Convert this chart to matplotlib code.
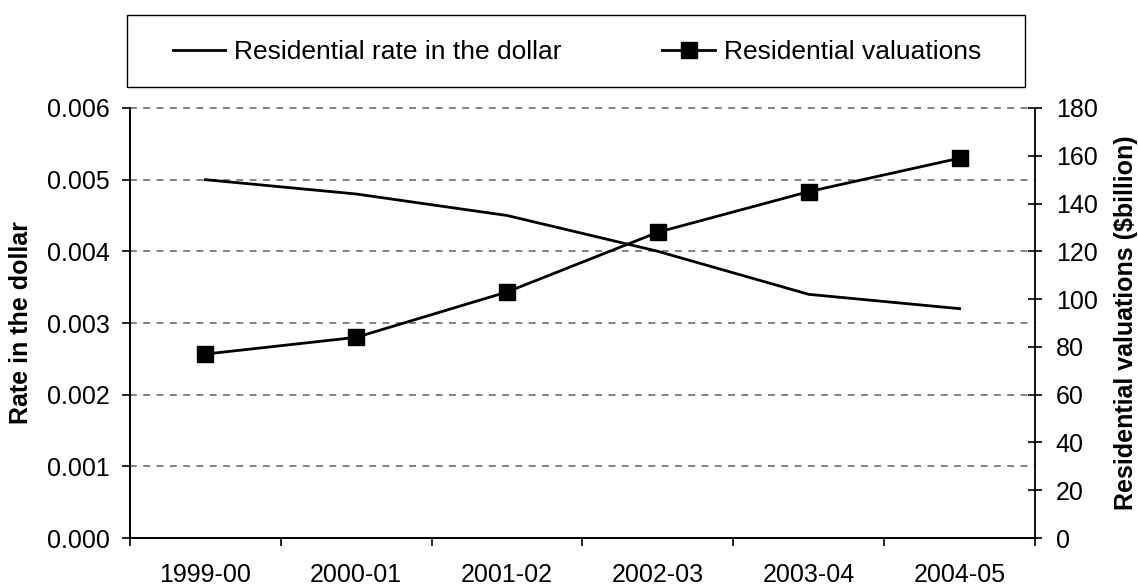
import matplotlib
matplotlib.use("Agg")
import matplotlib.pyplot as plt
from matplotlib.patches import Rectangle
from matplotlib.ticker import FixedLocator, FixedFormatter, MultipleLocator

plt.rcParams['font.family'] = ['Liberation Sans', 'DejaVu Sans']

years = ["1999-00", "2000-01", "2001-02", "2002-03", "2003-04", "2004-05"]
rate_in_dollar = [0.0050, 0.0048, 0.0045, 0.0040, 0.0034, 0.0032]
valuations_bn = [77, 84, 103, 128, 145, 159]

FS = 18
fig = plt.figure(figsize=(11.38, 5.86), dpi=100)
ax = fig.add_axes([0.1142, 0.0819, 0.7953, 0.7338])
ax2 = ax.twinx()

x = list(range(len(years)))

ax.set_xlim(-0.5, len(years) - 0.5)
ax.set_ylim(0, 0.006)
ax2.set_ylim(0, 180)

# dashed horizontal grid lines on the rate axis
for v in [0.001, 0.002, 0.003, 0.004, 0.005, 0.006]:
    ax.axhline(v, color="#606060", lw=1.1, ls=(0, (4.5, 4.2)), zorder=1,
               clip_on=False)

l1, = ax.plot(x, rate_in_dollar, color="black", lw=2, zorder=3,
              label="Residential rate in the dollar")
l2, = ax2.plot(x, valuations_bn, color="black", lw=2, marker="s",
               markersize=11, zorder=3, label="Residential valuations")

# category ticks at boundaries, labels at centres
ax.xaxis.set_major_locator(FixedLocator([i - 0.5 for i in range(len(years) + 1)]))
ax.xaxis.set_major_formatter(FixedFormatter([""] * (len(years) + 1)))
ax.xaxis.set_minor_locator(FixedLocator(x))
ax.xaxis.set_minor_formatter(FixedFormatter(years))
ax.tick_params(axis="x", which="major", direction="out", length=5.5, width=1.2)
ax.tick_params(axis="x", which="minor", length=0, labelsize=FS, pad=18)

ax.yaxis.set_major_locator(MultipleLocator(0.001))
ax.yaxis.set_major_formatter(plt.FuncFormatter(lambda v, p: f"{v:.3f}"))
ax.tick_params(axis="y", direction="out", length=5.5, width=1.2, labelsize=FS, pad=9)

ax2.yaxis.set_major_locator(MultipleLocator(20))
ax2.tick_params(axis="y", direction="inout", length=10, width=1.2, labelsize=FS, pad=10)

for a in (ax, ax2):
    a.spines["top"].set_visible(False)
    for s in ("left", "right", "bottom"):
        a.spines[s].set_linewidth(1.3)
ax.spines["right"].set_visible(False)

ax.set_ylabel("Rate in the dollar", fontsize=FS, fontweight="bold", labelpad=10)
ax2.set_ylabel("Residential valuations ($billion)", fontsize=FS, fontweight="bold",
               labelpad=12)

# legend box spanning the plot width, entries centred inside it
fig.patches.append(Rectangle((0.1116, 0.8515), 0.7891, 0.1229,
                             transform=fig.transFigure, fill=False,
                             edgecolor="black", linewidth=1.0))
fig.legend(handles=[l1, l2], loc="center", ncol=2,
           bbox_to_anchor=(0.507, 0.911), fontsize=19, frameon=False,
           handlelength=2.0, handletextpad=0.34, columnspacing=3.8,
           borderaxespad=0, borderpad=0)

fig.savefig("out.png", dpi=100)
